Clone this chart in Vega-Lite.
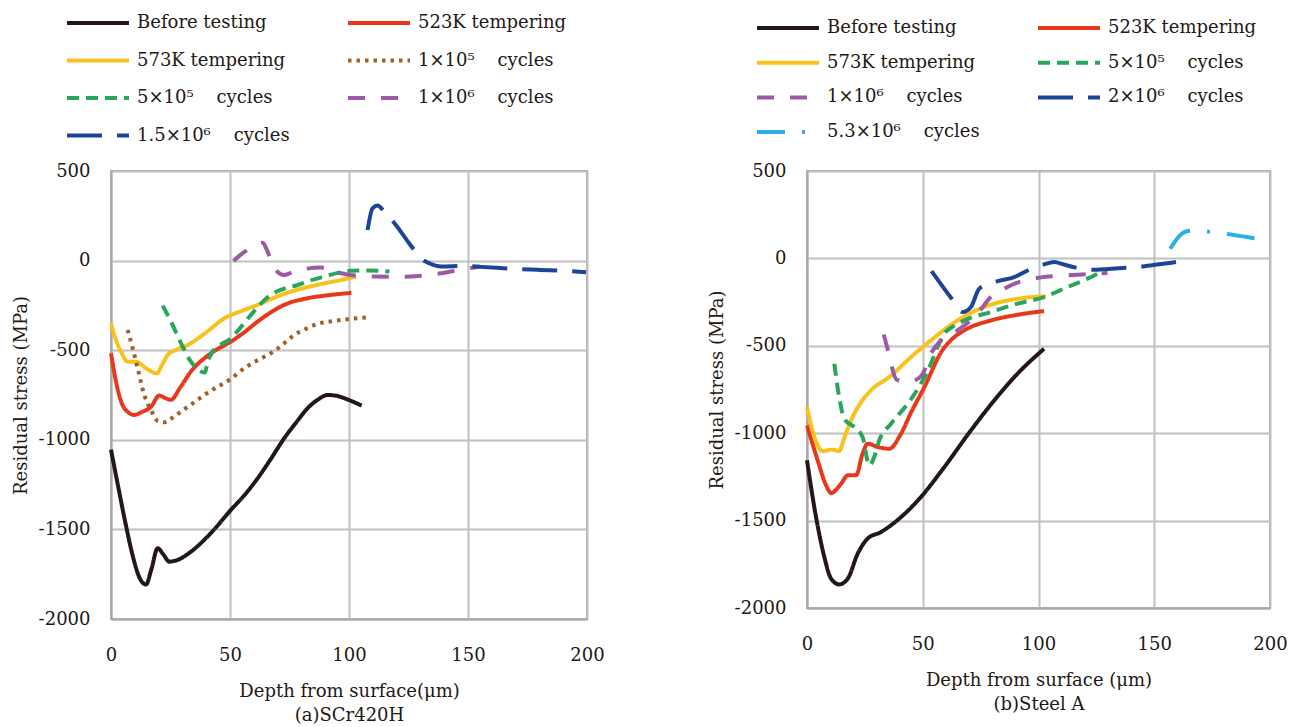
{
  "$schema": "https://vega.github.io/schema/vega-lite/v6.json",
  "padding": {"left": 11, "top": 11, "right": 5, "bottom": 0},
  "config": {
    "font": "DejaVu Serif",
    "view": {"stroke": "#a9a9a9", "strokeWidth": 2},
    "axis": {
      "labelFont": "DejaVu Serif", "titleFont": "DejaVu Serif",
      "labelFontSize": 18, "titleFontSize": 18,
      "labelColor": "#231815", "titleColor": "#231815", "titleFontWeight": "normal",
      "ticks": false, "gridColor": "#c0c0c0", "gridWidth": 2, "gridOpacity": 1,
      "domainColor": "#a9a9a9", "domainWidth": 2, "labelFlush": false,
      "labelExpr": "'' + datum.value"
    },
    "axisY": {"labelPadding": 21, "titlePadding": 8},
    "axisX": {"labelPadding": 27, "titlePadding": 18, "titleLineHeight": 24},
    "legend": {
      "labelFont": "DejaVu Serif", "labelFontSize": 18, "labelColor": "#231815",
      "symbolStrokeWidth": 4, "symbolSize": 3844, "symbolType": "stroke", "clipHeight": 22,
      "labelOffset": 6, "columns": 2, "columnPadding": 56, "labelLimit": 400, "padding": 0
    }
  },
  "datasets": {
    "a": [
      {"s": "Before testing", "x": 0, "y": -1055}, {"s": "Before testing", "x": 3, "y": -1260}, {"s": "Before testing", "x": 6, "y": -1460}, {"s": "Before testing", "x": 9, "y": -1640}, {"s": "Before testing", "x": 12, "y": -1770}, {"s": "Before testing", "x": 14.7, "y": -1808}, {"s": "Before testing", "x": 17, "y": -1720}, {"s": "Before testing", "x": 19.6, "y": -1605}, {"s": "Before testing", "x": 22, "y": -1640}, {"s": "Before testing", "x": 24.5, "y": -1680}, {"s": "Before testing", "x": 28, "y": -1670}, {"s": "Before testing", "x": 33.6, "y": -1624}, {"s": "Before testing", "x": 42, "y": -1520}, {"s": "Before testing", "x": 50.4, "y": -1391}, {"s": "Before testing", "x": 56, "y": -1310}, {"s": "Before testing", "x": 61.6, "y": -1215}, {"s": "Before testing", "x": 67, "y": -1110}, {"s": "Before testing", "x": 72.8, "y": -991}, {"s": "Before testing", "x": 78, "y": -900}, {"s": "Before testing", "x": 82.6, "y": -824}, {"s": "Before testing", "x": 87, "y": -775}, {"s": "Before testing", "x": 91, "y": -750}, {"s": "Before testing", "x": 95, "y": -755}, {"s": "Before testing", "x": 98, "y": -768}, {"s": "Before testing", "x": 105.3, "y": -809},
      {"s": "523K tempering", "x": 0, "y": -517}, {"s": "523K tempering", "x": 2.5, "y": -700}, {"s": "523K tempering", "x": 5.6, "y": -824}, {"s": "523K tempering", "x": 9.8, "y": -861}, {"s": "523K tempering", "x": 13, "y": -845}, {"s": "523K tempering", "x": 16.8, "y": -815}, {"s": "523K tempering", "x": 20.3, "y": -753}, {"s": "523K tempering", "x": 22.5, "y": -765}, {"s": "523K tempering", "x": 25.2, "y": -777}, {"s": "523K tempering", "x": 29, "y": -710}, {"s": "523K tempering", "x": 33.6, "y": -619}, {"s": "523K tempering", "x": 42, "y": -517}, {"s": "523K tempering", "x": 50.4, "y": -452}, {"s": "523K tempering", "x": 56, "y": -400}, {"s": "523K tempering", "x": 61.6, "y": -340}, {"s": "523K tempering", "x": 67, "y": -290}, {"s": "523K tempering", "x": 72.8, "y": -247}, {"s": "523K tempering", "x": 82.6, "y": -210}, {"s": "523K tempering", "x": 92, "y": -192}, {"s": "523K tempering", "x": 101, "y": -180},
      {"s": "573K tempering", "x": 0, "y": -350}, {"s": "573K tempering", "x": 2, "y": -440}, {"s": "573K tempering", "x": 4.2, "y": -508}, {"s": "573K tempering", "x": 7, "y": -564}, {"s": "573K tempering", "x": 10.5, "y": -564}, {"s": "573K tempering", "x": 14.7, "y": -601}, {"s": "573K tempering", "x": 19.3, "y": -629}, {"s": "573K tempering", "x": 21.5, "y": -580}, {"s": "573K tempering", "x": 23.8, "y": -527}, {"s": "573K tempering", "x": 27, "y": -500}, {"s": "573K tempering", "x": 32.2, "y": -471}, {"s": "573K tempering", "x": 40, "y": -400}, {"s": "573K tempering", "x": 47.6, "y": -322}, {"s": "573K tempering", "x": 55, "y": -280}, {"s": "573K tempering", "x": 61.6, "y": -247}, {"s": "573K tempering", "x": 68, "y": -210}, {"s": "573K tempering", "x": 75.6, "y": -173}, {"s": "573K tempering", "x": 82, "y": -150}, {"s": "573K tempering", "x": 89.6, "y": -127}, {"s": "573K tempering", "x": 96, "y": -110}, {"s": "573K tempering", "x": 103, "y": -89},
      {"s": "1×10⁵ cycles", "x": 7, "y": -387}, {"s": "1×10⁵ cycles", "x": 9.1, "y": -489}, {"s": "1×10⁵ cycles", "x": 11.2, "y": -601}, {"s": "1×10⁵ cycles", "x": 14, "y": -750}, {"s": "1×10⁵ cycles", "x": 17.5, "y": -852}, {"s": "1×10⁵ cycles", "x": 19.6, "y": -895}, {"s": "1×10⁵ cycles", "x": 22.7, "y": -902}, {"s": "1×10⁵ cycles", "x": 26, "y": -875}, {"s": "1×10⁵ cycles", "x": 29.4, "y": -843}, {"s": "1×10⁵ cycles", "x": 35, "y": -790}, {"s": "1×10⁵ cycles", "x": 39.2, "y": -750}, {"s": "1×10⁵ cycles", "x": 44, "y": -710}, {"s": "1×10⁵ cycles", "x": 49.7, "y": -666}, {"s": "1×10⁵ cycles", "x": 56, "y": -601}, {"s": "1×10⁵ cycles", "x": 61, "y": -560}, {"s": "1×10⁵ cycles", "x": 67.2, "y": -517}, {"s": "1×10⁵ cycles", "x": 72, "y": -470}, {"s": "1×10⁵ cycles", "x": 77, "y": -415}, {"s": "1×10⁵ cycles", "x": 82, "y": -380}, {"s": "1×10⁵ cycles", "x": 86.8, "y": -353}, {"s": "1×10⁵ cycles", "x": 93, "y": -338}, {"s": "1×10⁵ cycles", "x": 99.4, "y": -327}, {"s": "1×10⁵ cycles", "x": 107.8, "y": -316},
      {"s": "5×10⁵ cycles", "x": 21.7, "y": -251}, {"s": "5×10⁵ cycles", "x": 25.2, "y": -340}, {"s": "5×10⁵ cycles", "x": 29.4, "y": -461}, {"s": "5×10⁵ cycles", "x": 33.6, "y": -564}, {"s": "5×10⁵ cycles", "x": 37.8, "y": -619}, {"s": "5×10⁵ cycles", "x": 39.5, "y": -625}, {"s": "5×10⁵ cycles", "x": 40.5, "y": -570}, {"s": "5×10⁵ cycles", "x": 42.7, "y": -508}, {"s": "5×10⁵ cycles", "x": 46, "y": -470}, {"s": "5×10⁵ cycles", "x": 50.4, "y": -434}, {"s": "5×10⁵ cycles", "x": 54, "y": -380}, {"s": "5×10⁵ cycles", "x": 58.8, "y": -303}, {"s": "5×10⁵ cycles", "x": 63, "y": -240}, {"s": "5×10⁵ cycles", "x": 67.2, "y": -191}, {"s": "5×10⁵ cycles", "x": 72, "y": -160}, {"s": "5×10⁵ cycles", "x": 78.4, "y": -136}, {"s": "5×10⁵ cycles", "x": 84, "y": -110}, {"s": "5×10⁵ cycles", "x": 89.6, "y": -89}, {"s": "5×10⁵ cycles", "x": 95, "y": -70}, {"s": "5×10⁵ cycles", "x": 100.8, "y": -57}, {"s": "5×10⁵ cycles", "x": 108, "y": -55}, {"s": "5×10⁵ cycles", "x": 117, "y": -61},
      {"s": "1×10⁶ cycles", "x": 51.5, "y": -2}, {"s": "1×10⁶ cycles", "x": 54, "y": 28}, {"s": "1×10⁶ cycles", "x": 56.7, "y": 54}, {"s": "1×10⁶ cycles", "x": 60, "y": 80}, {"s": "1×10⁶ cycles", "x": 63.7, "y": 100}, {"s": "1×10⁶ cycles", "x": 65.8, "y": 50}, {"s": "1×10⁶ cycles", "x": 68.6, "y": -43}, {"s": "1×10⁶ cycles", "x": 72.8, "y": -80}, {"s": "1×10⁶ cycles", "x": 77, "y": -60}, {"s": "1×10⁶ cycles", "x": 81.2, "y": -47}, {"s": "1×10⁶ cycles", "x": 88.2, "y": -39}, {"s": "1×10⁶ cycles", "x": 93.8, "y": -61}, {"s": "1×10⁶ cycles", "x": 100.2, "y": -80}, {"s": "1×10⁶ cycles", "x": 106, "y": -86}, {"s": "1×10⁶ cycles", "x": 112, "y": -89}, {"s": "1×10⁶ cycles", "x": 120, "y": -90}, {"s": "1×10⁶ cycles", "x": 126, "y": -89}, {"s": "1×10⁶ cycles", "x": 132, "y": -82}, {"s": "1×10⁶ cycles", "x": 138.7, "y": -71}, {"s": "1×10⁶ cycles", "x": 145, "y": -55}, {"s": "1×10⁶ cycles", "x": 152.7, "y": -39}, {"s": "1×10⁶ cycles", "x": 155, "y": -33},
      {"s": "1.5×10⁶ cycles", "x": 107.8, "y": 171}, {"s": "1.5×10⁶ cycles", "x": 109.9, "y": 292}, {"s": "1.5×10⁶ cycles", "x": 112, "y": 307}, {"s": "1.5×10⁶ cycles", "x": 114.8, "y": 273}, {"s": "1.5×10⁶ cycles", "x": 119.7, "y": 199}, {"s": "1.5×10⁶ cycles", "x": 124, "y": 120}, {"s": "1.5×10⁶ cycles", "x": 128.2, "y": 46}, {"s": "1.5×10⁶ cycles", "x": 131, "y": 5}, {"s": "1.5×10⁶ cycles", "x": 133.7, "y": -15}, {"s": "1.5×10⁶ cycles", "x": 138.7, "y": -33}, {"s": "1.5×10⁶ cycles", "x": 148.4, "y": -30}, {"s": "1.5×10⁶ cycles", "x": 155.5, "y": -35}, {"s": "1.5×10⁶ cycles", "x": 162, "y": -40}, {"s": "1.5×10⁶ cycles", "x": 169.5, "y": -46}, {"s": "1.5×10⁶ cycles", "x": 180, "y": -52}, {"s": "1.5×10⁶ cycles", "x": 191.2, "y": -57}, {"s": "1.5×10⁶ cycles", "x": 199.6, "y": -65}
    ],
    "b": [
      {"s": "Before testing", "x": 0, "y": -1155}, {"s": "Before testing", "x": 3.9, "y": -1480}, {"s": "Before testing", "x": 7.5, "y": -1709}, {"s": "Before testing", "x": 10.4, "y": -1832}, {"s": "Before testing", "x": 13.9, "y": -1865}, {"s": "Before testing", "x": 17.6, "y": -1832}, {"s": "Before testing", "x": 21.9, "y": -1689}, {"s": "Before testing", "x": 26.2, "y": -1603}, {"s": "Before testing", "x": 32, "y": -1565}, {"s": "Before testing", "x": 40.6, "y": -1480}, {"s": "Before testing", "x": 49.2, "y": -1365}, {"s": "Before testing", "x": 59.3, "y": -1194}, {"s": "Before testing", "x": 70.8, "y": -984}, {"s": "Before testing", "x": 80.9, "y": -812}, {"s": "Before testing", "x": 90.9, "y": -660}, {"s": "Before testing", "x": 102.4, "y": -517},
      {"s": "523K tempering", "x": 0, "y": -955}, {"s": "523K tempering", "x": 4.6, "y": -1155}, {"s": "523K tempering", "x": 8, "y": -1290}, {"s": "523K tempering", "x": 10.4, "y": -1342}, {"s": "523K tempering", "x": 14.7, "y": -1289}, {"s": "523K tempering", "x": 17.6, "y": -1241}, {"s": "523K tempering", "x": 21.2, "y": -1241}, {"s": "523K tempering", "x": 24, "y": -1117}, {"s": "523K tempering", "x": 26.2, "y": -1060}, {"s": "523K tempering", "x": 30.5, "y": -1079}, {"s": "523K tempering", "x": 35.5, "y": -1089}, {"s": "523K tempering", "x": 40.6, "y": -1003}, {"s": "523K tempering", "x": 45, "y": -880}, {"s": "523K tempering", "x": 50.7, "y": -736}, {"s": "523K tempering", "x": 58.5, "y": -525}, {"s": "523K tempering", "x": 62, "y": -470}, {"s": "523K tempering", "x": 67.9, "y": -412}, {"s": "523K tempering", "x": 79.4, "y": -355}, {"s": "523K tempering", "x": 89.5, "y": -326}, {"s": "523K tempering", "x": 102.4, "y": -301},
      {"s": "573K tempering", "x": 0, "y": -850}, {"s": "573K tempering", "x": 3.2, "y": -1022}, {"s": "573K tempering", "x": 6.8, "y": -1102}, {"s": "573K tempering", "x": 11.1, "y": -1094}, {"s": "573K tempering", "x": 13.9, "y": -1102}, {"s": "573K tempering", "x": 16, "y": -1030}, {"s": "573K tempering", "x": 19, "y": -927}, {"s": "573K tempering", "x": 23, "y": -830}, {"s": "573K tempering", "x": 27.6, "y": -755}, {"s": "573K tempering", "x": 35.5, "y": -679}, {"s": "573K tempering", "x": 44.9, "y": -565}, {"s": "573K tempering", "x": 53.5, "y": -469}, {"s": "573K tempering", "x": 65, "y": -355}, {"s": "573K tempering", "x": 76.5, "y": -278}, {"s": "573K tempering", "x": 90.9, "y": -231}, {"s": "573K tempering", "x": 103.2, "y": -217},
      {"s": "5×10⁵ cycles", "x": 11.8, "y": -603}, {"s": "5×10⁵ cycles", "x": 13.9, "y": -793}, {"s": "5×10⁵ cycles", "x": 16.1, "y": -917}, {"s": "5×10⁵ cycles", "x": 20.4, "y": -965}, {"s": "5×10⁵ cycles", "x": 24, "y": -1022}, {"s": "5×10⁵ cycles", "x": 26.9, "y": -1184}, {"s": "5×10⁵ cycles", "x": 29, "y": -1137}, {"s": "5×10⁵ cycles", "x": 31.2, "y": -1041}, {"s": "5×10⁵ cycles", "x": 36.3, "y": -946}, {"s": "5×10⁵ cycles", "x": 43.5, "y": -831}, {"s": "5×10⁵ cycles", "x": 49.2, "y": -717}, {"s": "5×10⁵ cycles", "x": 53.5, "y": -603}, {"s": "5×10⁵ cycles", "x": 56.4, "y": -507}, {"s": "5×10⁵ cycles", "x": 59.3, "y": -431}, {"s": "5×10⁵ cycles", "x": 63, "y": -390}, {"s": "5×10⁵ cycles", "x": 67.9, "y": -355}, {"s": "5×10⁵ cycles", "x": 79.4, "y": -307}, {"s": "5×10⁵ cycles", "x": 90.9, "y": -259}, {"s": "5×10⁵ cycles", "x": 102.4, "y": -221}, {"s": "5×10⁵ cycles", "x": 112.5, "y": -164}, {"s": "5×10⁵ cycles", "x": 121.2, "y": -116}, {"s": "5×10⁵ cycles", "x": 127, "y": -78},
      {"s": "1×10⁶ cycles", "x": 33.1, "y": -435}, {"s": "1×10⁶ cycles", "x": 34.8, "y": -517}, {"s": "1×10⁶ cycles", "x": 36.3, "y": -603}, {"s": "1×10⁶ cycles", "x": 38.6, "y": -693}, {"s": "1×10⁶ cycles", "x": 42, "y": -705}, {"s": "1×10⁶ cycles", "x": 46.3, "y": -698}, {"s": "1×10⁶ cycles", "x": 50, "y": -660}, {"s": "1×10⁶ cycles", "x": 53.5, "y": -545}, {"s": "1×10⁶ cycles", "x": 57.9, "y": -469}, {"s": "1×10⁶ cycles", "x": 65, "y": -412}, {"s": "1×10⁶ cycles", "x": 73.7, "y": -316}, {"s": "1×10⁶ cycles", "x": 79.4, "y": -221}, {"s": "1×10⁶ cycles", "x": 85.2, "y": -173}, {"s": "1×10⁶ cycles", "x": 93.8, "y": -126}, {"s": "1×10⁶ cycles", "x": 100.3, "y": -110}, {"s": "1×10⁶ cycles", "x": 112.5, "y": -97}, {"s": "1×10⁶ cycles", "x": 129.8, "y": -84},
      {"s": "2×10⁶ cycles", "x": 53.8, "y": -73}, {"s": "2×10⁶ cycles", "x": 58, "y": -150}, {"s": "2×10⁶ cycles", "x": 62.2, "y": -225}, {"s": "2×10⁶ cycles", "x": 67.2, "y": -307}, {"s": "2×10⁶ cycles", "x": 70.8, "y": -278}, {"s": "2×10⁶ cycles", "x": 74.4, "y": -173}, {"s": "2×10⁶ cycles", "x": 78, "y": -150}, {"s": "2×10⁶ cycles", "x": 82.4, "y": -130}, {"s": "2×10⁶ cycles", "x": 89.5, "y": -107}, {"s": "2×10⁶ cycles", "x": 95.3, "y": -69}, {"s": "2×10⁶ cycles", "x": 102.4, "y": -34}, {"s": "2×10⁶ cycles", "x": 106.8, "y": -21}, {"s": "2×10⁶ cycles", "x": 111, "y": -35}, {"s": "2×10⁶ cycles", "x": 116.2, "y": -53}, {"s": "2×10⁶ cycles", "x": 123.4, "y": -65}, {"s": "2×10⁶ cycles", "x": 130, "y": -60}, {"s": "2×10⁶ cycles", "x": 137.8, "y": -53}, {"s": "2×10⁶ cycles", "x": 145, "y": -46}, {"s": "2×10⁶ cycles", "x": 152, "y": -34}, {"s": "2×10⁶ cycles", "x": 159.4, "y": -21},
      {"s": "5.3×10⁶ cycles", "x": 156.9, "y": 55}, {"s": "5.3×10⁶ cycles", "x": 161.5, "y": 137}, {"s": "5.3×10⁶ cycles", "x": 164, "y": 155}, {"s": "5.3×10⁶ cycles", "x": 167.3, "y": 160}, {"s": "5.3×10⁶ cycles", "x": 175.2, "y": 150}, {"s": "5.3×10⁶ cycles", "x": 183.1, "y": 137}, {"s": "5.3×10⁶ cycles", "x": 190, "y": 122}, {"s": "5.3×10⁶ cycles", "x": 198, "y": 105}
    ]
  },
  "spacing": 101,
  "resolve": {"scale": {"color": "independent", "strokeDash": "independent"}, "legend": {"color": "independent", "strokeDash": "independent"}},
  "hconcat": [
    {
      "width": 476, "height": 448,
      "data": {"name": "a"},
      "mark": {"type": "line", "strokeWidth": 4, "interpolate": "monotone"},
      "encoding": {
        "x": {"field": "x", "type": "quantitative", "scale": {"domain": [0, 200], "nice": false}, "axis": {"values": [0, 50, 100, 150, 200], "title": ["Depth from surface(μm)", "(a)SCr420H"]}},
        "y": {"field": "y", "type": "quantitative", "scale": {"domain": [-2000, 500], "nice": false}, "axis": {"values": [-2000, -1500, -1000, -500, 0, 500], "title": "Residual stress (MPa)"}},
        "color": {"field": "s", "type": "nominal",
          "scale": {"domain": ["Before testing", "573K tempering", "5×10⁵ cycles", "1.5×10⁶ cycles", "523K tempering", "1×10⁵ cycles", "1×10⁶ cycles"],
                    "range": ["#231815", "#f8c21c", "#2aa65a", "#1d4597", "#e8381c", "#a0602c", "#9c5aa6"]},
          "legend": {"title": null, "orient": "none", "legendX": -46, "legendY": -159, "rowPadding": 15.5, "labelExpr": "replace(datum.label, ' cycles', '\u00a0\u00a0\u00a0\u00a0cycles')"}},
        "strokeDash": {"field": "s", "type": "nominal",
          "scale": {"domain": ["Before testing", "573K tempering", "5×10⁵ cycles", "1.5×10⁶ cycles", "523K tempering", "1×10⁵ cycles", "1×10⁶ cycles"],
                    "range": [[1, 0], [1, 0], [12, 7], [35, 15], [1, 0], [3.5, 5], [17, 16]]},
          "legend": {"title": null, "orient": "none", "legendX": -46, "legendY": -159, "rowPadding": 15.5, "labelExpr": "replace(datum.label, ' cycles', '\u00a0\u00a0\u00a0\u00a0cycles')"}}
      }
    },
    {
      "width": 463, "height": 437,
      "data": {"name": "b"},
      "mark": {"type": "line", "strokeWidth": 4, "interpolate": "monotone"},
      "encoding": {
        "x": {"field": "x", "type": "quantitative", "scale": {"domain": [0, 200], "nice": false}, "axis": {"values": [0, 50, 100, 150, 200], "title": ["Depth from surface (μm)", "(b)Steel A"]}},
        "y": {"field": "y", "type": "quantitative", "scale": {"domain": [-2000, 500], "nice": false}, "axis": {"values": [-2000, -1500, -1000, -500, 0, 500], "title": "Residual stress (MPa)"}},
        "color": {"field": "s", "type": "nominal",
          "scale": {"domain": ["Before testing", "573K tempering", "1×10⁶ cycles", "5.3×10⁶ cycles", "523K tempering", "5×10⁵ cycles", "2×10⁶ cycles"],
                    "range": ["#231815", "#f8c21c", "#9c5aa6", "#2bb0e4", "#e8381c", "#2aa65a", "#1d4597"]},
          "legend": {"title": null, "orient": "none", "legendX": -52, "legendY": -154, "rowPadding": 12.7, "labelExpr": "replace(datum.label, ' cycles', '\u00a0\u00a0\u00a0\u00a0cycles')"}},
        "strokeDash": {"field": "s", "type": "nominal",
          "scale": {"domain": ["Before testing", "573K tempering", "1×10⁶ cycles", "5.3×10⁶ cycles", "523K tempering", "5×10⁵ cycles", "2×10⁶ cycles"],
                    "range": [[1, 0], [1, 0], [17, 16], [28, 17, 3, 17], [1, 0], [12, 7], [35, 15]]},
          "legend": {"title": null, "orient": "none", "legendX": -52, "legendY": -154, "rowPadding": 12.7, "labelExpr": "replace(datum.label, ' cycles', '\u00a0\u00a0\u00a0\u00a0cycles')"}}
      }
    }
  ]
}
